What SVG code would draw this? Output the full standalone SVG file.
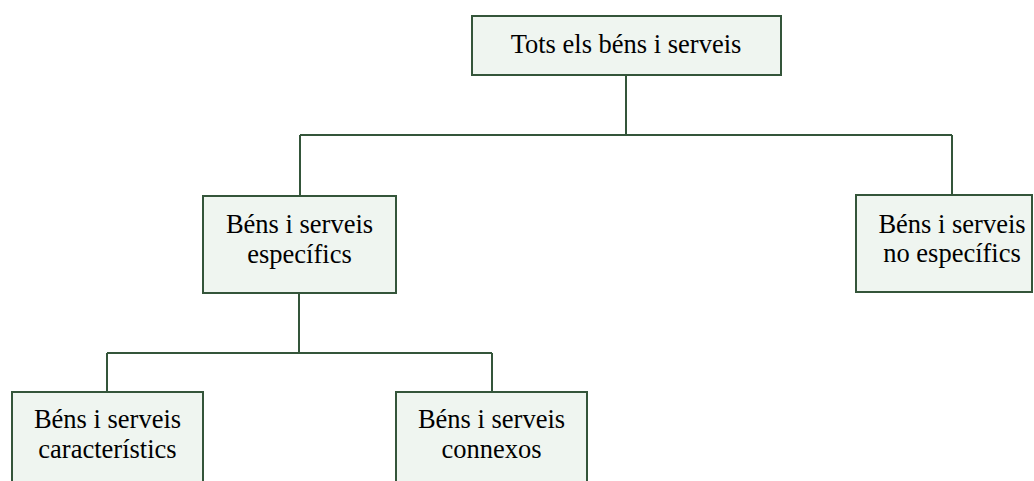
<svg xmlns="http://www.w3.org/2000/svg" width="1034" height="481" viewBox="0 0 1034 481">
<style>
.box{fill:#eff5f0;stroke:#34553a;stroke-width:2}
.conn{fill:none;stroke:#34553a;stroke-width:2}
text{font-family:"Liberation Serif","Times New Roman",serif;font-size:26.5px;fill:#000;text-anchor:middle}
</style>
<rect width="1034" height="481" fill="#ffffff"/>
<g id="connectors">
<path class="conn" d="M626,75 V135 M300,135 H952 M300,135 V196 M952,135 V195"/>
<path class="conn" d="M299,293 V353 M107,353 H492 M107,353 V392 M492,353 V392"/>
</g>
<g id="node-tots">
<rect class="box" x="472" y="16" width="309" height="59"/>
<text x="626" y="53">Tots els béns i serveis</text>
</g>
<g id="node-especifics">
<rect class="box" x="203" y="196" width="193" height="97"/>
<text x="299.5" y="233">Béns i serveis</text>
<text x="299.5" y="263">específics</text>
</g>
<g id="node-no-especifics">
<rect class="box" x="856" y="195" width="176" height="97"/>
<text x="952" y="233">Béns i serveis</text>
<text x="952" y="262">no específics</text>
</g>
<g id="node-caracteristics">
<rect class="box" x="12" y="392" width="191" height="100"/>
<text x="107.5" y="428">Béns i serveis</text>
<text x="107.5" y="458">característics</text>
</g>
<g id="node-connexos">
<rect class="box" x="396" y="392" width="191" height="100"/>
<text x="491.5" y="428">Béns i serveis</text>
<text x="491.5" y="458">connexos</text>
</g>
</svg>
